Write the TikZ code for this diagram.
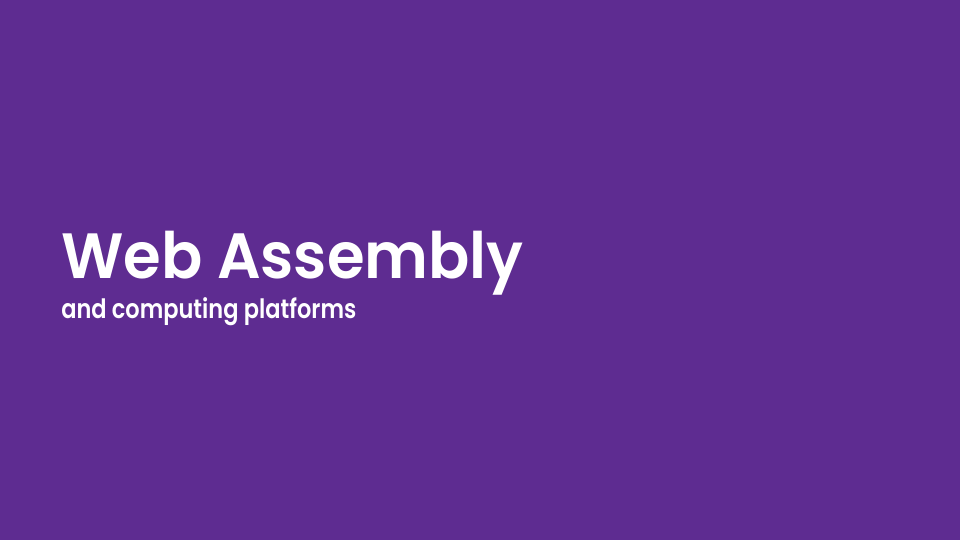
\documentclass[tikz,border=0pt]{standalone}
\usepackage{fontspec}
\setmainfont{Poppins}
\newfontfamily\ptitle{Poppins SemiBold}
\definecolor{bgpurple}{RGB}{94,44,145}
\tikzset{
  slidetitle/.style={anchor=base west, inner sep=0pt, text=white, font=\fontsize{48}{56}\ptitle},
  slidesub/.style={anchor=base west, inner sep=0pt, text=white, font=\fontsize{20}{24}\ptitle}
}
\begin{document}
\begin{tikzpicture}[x=0.75pt,y=-0.75pt]
\fill[bgpurple] (0,0) rectangle (960,540);
\useasboundingbox (0,0) rectangle (960,540);
\node[slidetitle] (title) at (61,278) {\scalebox{0.952}[1]{Web Assembly}};
\node[slidesub] (sub) at (61,318) {\scalebox{0.843}[1]{and computing platforms}};
\end{tikzpicture}
\end{document}
